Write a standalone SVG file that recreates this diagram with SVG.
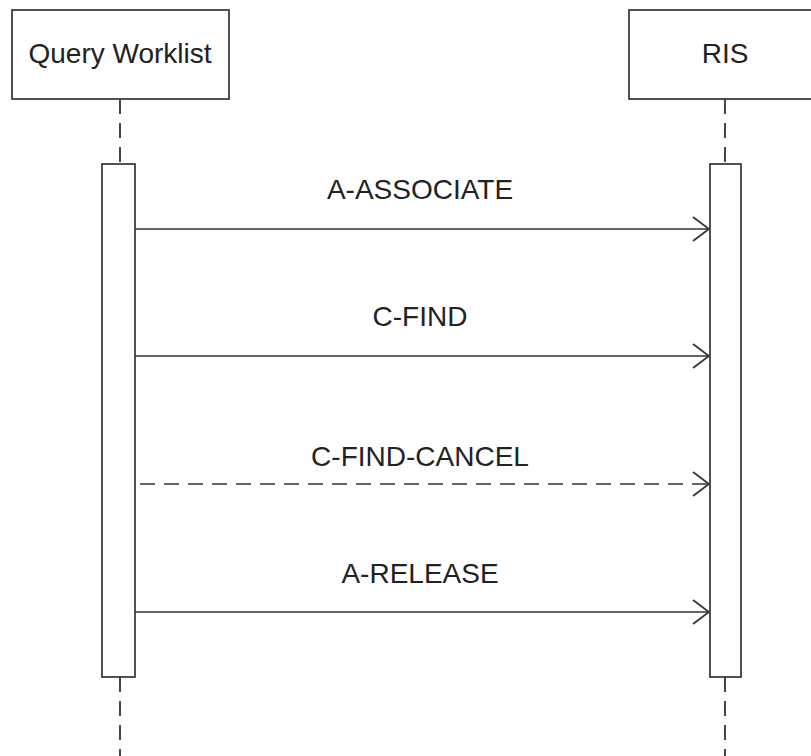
<svg xmlns="http://www.w3.org/2000/svg" width="811" height="756" viewBox="0 0 811 756">
<defs>
<style>
.box{fill:#fff;stroke:#333;stroke-width:1.7}
.life{stroke:#333;stroke-width:1.8;stroke-dasharray:15 9;fill:none}
.msg{stroke:#333;stroke-width:1.7;fill:none}
.dash{stroke-dasharray:15 9}
.t{font-family:"Liberation Sans",Arial,sans-serif;font-size:28px;fill:#222;text-anchor:middle}
</style>
<marker id="arr" markerWidth="20" markerHeight="28" refX="17" refY="13" orient="auto" markerUnits="userSpaceOnUse">
<path d="M1,1 L17,13 L1,25" fill="none" stroke="#333" stroke-width="1.7"/>
</marker>
</defs>
<rect width="811" height="756" fill="#fff"/>
<g id="lifelines">
<line class="life" x1="120" y1="99" x2="120" y2="164"/>
<line class="life" x1="120" y1="677" x2="120" y2="756"/>
<line class="life" x1="725" y1="99" x2="725" y2="164"/>
<line class="life" x1="725" y1="677" x2="725" y2="756"/>
</g>
<g id="query-worklist">
<rect class="box" x="12" y="10" width="217" height="89"/>
<text class="t" x="120" y="63">Query Worklist</text>
</g>
<g id="ris">
<rect class="box" x="629" y="10" width="190" height="89"/>
<text class="t" x="725" y="63">RIS</text>
</g>
<g id="activation-left">
<rect class="box" x="102" y="164" width="33" height="513"/>
</g>
<g id="activation-right">
<rect class="box" x="710" y="164" width="31" height="513"/>
</g>
<g id="connectors">
<line class="msg" x1="135" y1="229" x2="709" y2="229" marker-end="url(#arr)"/>
<line class="msg" x1="135" y1="356" x2="709" y2="356" marker-end="url(#arr)"/>
<line class="msg dash" x1="140" y1="484" x2="709" y2="484" marker-end="url(#arr)"/>
<line class="msg" x1="135" y1="612" x2="709" y2="612" marker-end="url(#arr)"/>
<text class="t" x="420" y="199">A-ASSOCIATE</text>
<text class="t" x="420" y="326">C-FIND</text>
<text class="t" x="420" y="466">C-FIND-CANCEL</text>
<text class="t" x="420" y="583">A-RELEASE</text>
</g>
</svg>
